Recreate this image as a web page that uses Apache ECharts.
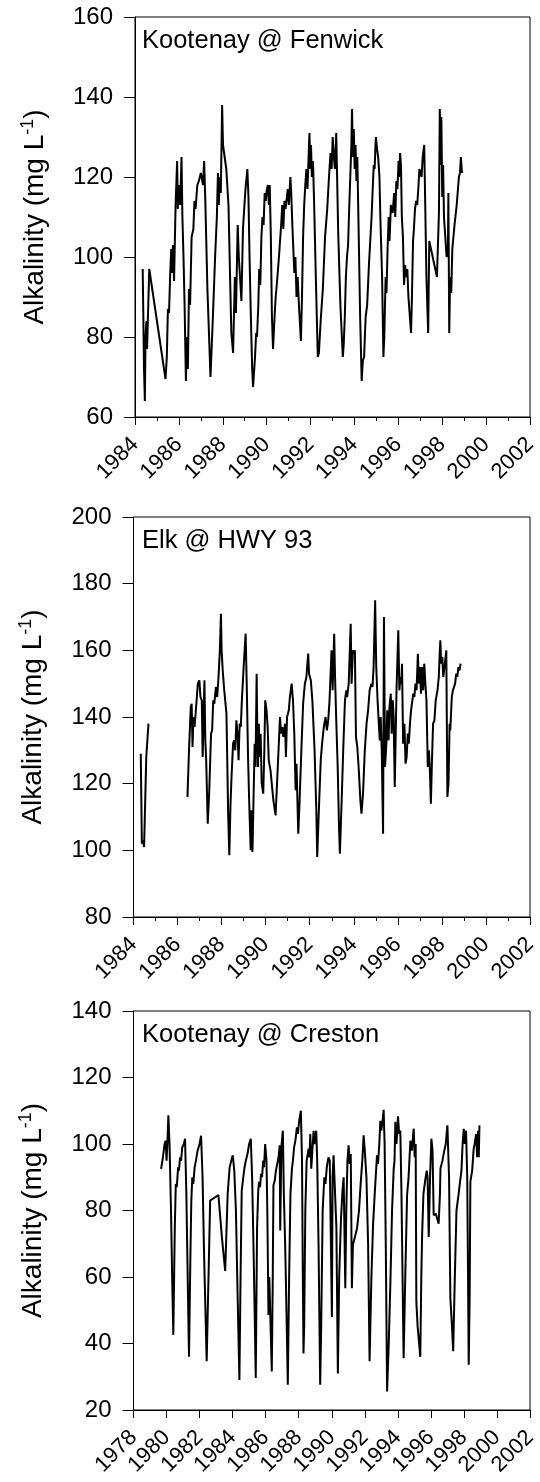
<!DOCTYPE html>
<html>
<head>
<meta charset="utf-8">
<script src="https://cdn.jsdelivr.net/npm/echarts@6/dist/echarts.min.js"></script>
<style>
html,body{margin:0;padding:0;background:#fff;}
#chart{width:540px;height:1482px;}
</style>
</head>
<body>
<div id="chart"></div>
<script>
// ---------- DATA ----------
const panelTitles = ['Kootenay @ Fenwick', 'Elk @ HWY 93', 'Kootenay @ Creston'];
const yTitle = 'Alkalinity (mg L-1)';

// Panel 1: Kootenay @ Fenwick (decimal year, mg/L)
const fenwickDates = [1984.35,1984.38,1984.41,1984.45,1984.48,1984.52,1984.55,1984.58,1984.65,
1985.39,1985.45,1985.5,1985.55,1985.6,1985.65,1985.68,1985.73,1985.78,1985.85,1985.92,1985.95,
1986.0,1986.06,1986.12,1986.16,1986.21,1986.26,1986.32,1986.37,1986.41,1986.46,1986.51,1986.58,1986.66,1986.71,1986.76,1986.84,1986.91,
1987.0,1987.1,1987.15,1987.2,1987.3,1987.44,1987.55,1987.65,1987.73,1987.78,1987.82,1987.86,1987.91,1987.97,
1988.01,1988.06,1988.11,1988.16,1988.26,1988.32,1988.39,1988.47,1988.55,1988.6,1988.68,1988.73,1988.85,1988.92,
1989.03,1989.12,1989.17,1989.22,1989.28,1989.34,1989.38,1989.42,1989.47,1989.52,1989.56,1989.62,1989.66,1989.71,1989.76,1989.81,1989.86,1989.91,1989.96,
1990.01,1990.06,1990.1,1990.14,1990.19,1990.24,1990.29,1990.36,1990.41,1990.46,1990.56,1990.66,1990.71,1990.76,1990.81,1990.86,1990.96,
1991.01,1991.08,1991.12,1991.17,1991.26,1991.31,1991.36,1991.41,1991.48,1991.56,1991.61,1991.66,1991.71,1991.76,1991.81,1991.86,1991.91,1991.95,1991.99,
1992.02,1992.06,1992.11,1992.16,1992.24,1992.33,1992.38,1992.46,1992.56,1992.66,1992.76,1992.84,1992.91,1992.96,
1993.01,1993.06,1993.11,1993.17,1993.21,1993.26,1993.36,1993.47,1993.51,1993.56,1993.61,1993.66,1993.71,1993.76,1993.81,1993.86,1993.89,1993.93,1993.97,
1994.01,1994.05,1994.09,1994.13,1994.18,1994.26,1994.33,1994.38,1994.44,1994.51,1994.58,1994.66,1994.72,1994.78,1994.84,1994.88,1994.92,1994.96,1994.98,
1995.03,1995.08,1995.14,1995.18,1995.26,1995.32,1995.36,1995.42,1995.46,1995.51,1995.56,1995.6,1995.66,1995.74,1995.81,1995.86,1995.91,1995.96,
1996.01,1996.04,1996.08,1996.12,1996.16,1996.21,1996.26,1996.31,1996.36,1996.41,1996.46,1996.58,1996.62,1996.67,1996.71,1996.76,1996.81,1996.86,1996.91,1996.96,
1997.01,1997.06,1997.11,1997.18,1997.22,1997.28,1997.36,1997.41,1997.76,1997.85,1997.89,1997.93,1997.96,
1998.0,1998.04,1998.08,1998.14,1998.2,1998.26,1998.28,1998.32,1998.36,1998.41,1998.46,1998.56,1998.66,1998.76,1998.81,1998.85,1998.9];
const fenwickValues = [97,85,72,64,80,84,77,83,97,
69.5,75,87,86,95,102,96,103,94,113,124,112,
118,113,125,110,100,88,69,80,72,92,88,105,107,114,112,118,119,
121,118,124,115,92,70,85,100,110,121,113,120,116,138,
128,126,124,122,113,113,81,76,95,86,108,100,89,107,
116.7,122,115,100,85,72,67.5,68,75,81,80,88,97,93,105,110,108,116,114,
117,118,113,118,105,85,77,85,90,93,100,108,113,107,114,112,117,
113,120,116,108,96,100,90,95,87,79,90,105,113,118,122,117,125,131,122,
128,120,124,114,95,75,76,84,92,105,112,120,126,122,
130,125,122,131,120,106,88,75,78,85,95,100,103,112,120,128,137,125,132,
122,128,119,125,110,85,69,74,75,85,88,98,104,110,118,123,122,128,130,
127,125,120,110,95,75,80,95,91,102,110,104,113,111,116,110,119,117,
124,120,126,123,110,105,93,98,95,97,90,81,90,104,107,112,114,113,117,122,
121,120,125,128,115,95,81,104,95,111,137,123,135,
115,123,110,105,100,102,116,81,95,91,102,108,113,120,121,125,121];

// Panel 2: Elk @ HWY 93 (null = gap in record)
const elkDates = [1984.33,1984.38,1984.43,1984.48,1984.58,1984.68,
1985.5,
1986.45,1986.52,1986.6,1986.64,1986.68,1986.72,1986.77,1986.82,1986.92,1986.99,
1987.04,1987.1,1987.14,1987.22,1987.26,1987.3,1987.37,1987.44,1987.52,1987.57,1987.62,1987.67,1987.74,1987.8,1987.86,1987.92,1987.97,
1988.0,1988.05,1988.12,1988.22,1988.3,1988.35,1988.4,1988.45,1988.52,1988.57,1988.62,1988.67,1988.72,1988.77,1988.82,1988.87,1988.92,1989.0,
1989.09,1989.14,1989.2,1989.25,1989.32,1989.35,1989.4,1989.44,1989.5,1989.54,1989.59,1989.62,1989.65,1989.69,1989.72,1989.77,1989.82,1989.89,1989.94,1989.98,
1990.04,1990.09,1990.14,1990.22,1990.35,1990.45,1990.55,1990.65,1990.7,1990.75,1990.8,1990.88,1990.92,1990.97,
1991.05,1991.1,1991.18,1991.24,1991.3,1991.36,1991.4,1991.48,1991.53,1991.62,1991.7,1991.78,1991.85,1991.93,1991.97,
1992.05,1992.12,1992.22,1992.3,1992.34,1992.42,1992.5,1992.56,1992.64,1992.72,1992.78,1992.84,1992.9,1992.99,
1993.04,1993.11,1993.15,1993.2,1993.27,1993.33,1993.37,1993.45,1993.52,1993.6,1993.66,1993.7,1993.77,1993.86,1993.9,1993.96,
1994.01,1994.05,1994.1,1994.16,1994.22,1994.3,1994.35,1994.42,1994.5,1994.58,1994.65,1994.72,1994.8,1994.85,1994.9,1994.97,
1995.02,1995.08,1995.12,1995.18,1995.22,1995.27,1995.33,1995.37,1995.42,1995.48,1995.52,1995.58,1995.62,1995.68,1995.72,1995.77,1995.81,1995.86,1995.94,
1996.02,1996.07,1996.12,1996.16,1996.19,1996.24,1996.3,1996.35,1996.4,1996.45,1996.5,1996.55,1996.6,1996.7,1996.75,1996.8,1996.85,1996.91,1996.96,
1997.0,1997.05,1997.1,1997.15,1997.2,1997.25,1997.3,1997.36,1997.41,1997.45,1997.5,1997.55,1997.6,1997.66,1997.72,1997.8,1997.86,1997.9,1997.93,1997.97,
1998.02,1998.06,1998.1,1998.15,1998.2,1998.25,1998.3,1998.35,1998.38,1998.45,1998.5,1998.6,1998.65,1998.7,1998.75,1998.8,1998.85];
const elkValues = [129,102,103,101,128,138,
null,
116,130,143,144,131,140,137,141,150,151,
146,145,128,151,133,127,108,118,135,136,145,144,149,146,152,160,171,
160,154,148,141,110,98.5,113,122,132,133,130,139,135,127,138,137,145,155,
165,150,128,115,100,112,99.5,100,132,125,153,136,125,138,128,135,120,117,130,145,
142,137,127,124,115,110.5,125,140,135,137,134,138,128,140,
142,146,150,145,135,118,126,105,113,130,144,150,152,159,153,
151,145,130,112,98,113,127,132,137,140,136,139,145,160,
148,165,152,140,125,107,99,115,130,145,148,146,150,168,150,160,
159,160,134,131,125,115,111,117,130,138,142,148,150,149,155,175,
155,145,140,133,140,130,105,170,125,132,142,133,143,147,135,145,140,119,148,
166,148,152,150,156,132,138,126,128,135,132,138,142,147,146,150,148,159,150,
155,147,155,148,156,150,145,125,130,125,114,127,138,139,145,148,152,159,163,156,
158,152,154,157,160,116,120,138,136,146,148,150,153,152,155,154,156];

// Panel 3: Kootenay @ Creston
const crestonDates = [1979.67,1979.78,1979.88,1979.95,1980.0,1980.05,1980.11,1980.18,1980.27,1980.34,1980.41,1980.5,1980.56,1980.62,1980.7,1980.75,1980.82,1980.88,1980.95,
1981.05,1981.12,1981.2,1981.28,1981.36,1981.44,1981.5,1981.56,1981.62,1981.7,1981.78,1981.88,
1982.0,1982.09,1982.18,1982.28,1982.43,1982.64,1983.14,1983.35,1983.55,1983.7,1983.82,1983.92,
1984.01,1984.1,1984.2,1984.3,1984.41,1984.48,1984.55,1984.66,1984.72,1984.8,1984.9,
1985.0,1985.1,1985.18,1985.28,1985.4,1985.48,1985.55,1985.6,1985.66,1985.72,1985.78,1985.85,1985.9,1985.97,
1986.05,1986.1,1986.17,1986.22,1986.3,1986.37,1986.43,1986.47,1986.55,1986.62,1986.7,1986.78,1986.85,1986.88,1986.95,
1987.04,1987.1,1987.18,1987.22,1987.34,1987.42,1987.5,1987.59,1987.65,1987.72,1987.8,1987.89,1987.95,
1988.03,1988.13,1988.2,1988.25,1988.29,1988.33,1988.4,1988.48,1988.6,1988.65,1988.7,1988.76,1988.84,1988.9,1988.95,
1989.06,1989.12,1989.2,1989.3,1989.36,1989.45,1989.55,1989.62,1989.7,1989.8,1989.88,
1990.01,1990.05,1990.11,1990.2,1990.28,1990.37,1990.45,1990.56,1990.65,1990.72,1990.82,1990.88,1990.95,
1991.02,1991.08,1991.15,1991.22,1991.28,1991.4,1991.53,1991.65,1991.75,1991.85,1991.93,
1992.0,1992.1,1992.2,1992.29,1992.4,1992.5,1992.6,1992.74,1992.8,1992.88,1992.94,
1993.0,1993.08,1993.14,1993.2,1993.27,1993.35,1993.45,1993.55,1993.65,1993.75,1993.8,1993.85,1993.92,
1994.01,1994.08,1994.15,1994.22,1994.35,1994.45,1994.56,1994.65,1994.76,1994.85,1994.96,
1995.02,1995.08,1995.12,1995.2,1995.36,1995.42,1995.47,1995.55,1995.67,1995.75,1995.8,1995.87,1995.95,
1996.03,1996.1,1996.17,1996.3,1996.47,1996.55,1996.58,1996.7,1996.8,1996.9,
1997.0,1997.1,1997.18,1997.28,1997.35,1997.45,1997.55,1997.68,1997.75,1997.85,1997.92,1997.99,
1998.05,1998.13,1998.2,1998.25,1998.29,1998.35,1998.39,1998.5,1998.59,1998.65,1998.74,1998.8,1998.86,1998.9,1998.94];
const crestonValues = [92.5,96,100,101,95,100,108.6,100,80,60,42.6,75,88,87,93,92,96,95,99,
100,101.6,85,60,36,65,83,90,88,93,95,98,
100,102.5,90,65,34.7,83,84.6,72,61.8,85,93,95,
96.6,92,80,55,29,60,86,90.6,93,95,97,
100,101.6,90,65,29.6,75,86,88.6,87,91,90,95,93,100,
95,80,48.6,60,45,31.6,60,87.6,89,92,94,96,99.6,74,99,
104,85,69.6,60,27.6,60,85,92.6,95,99,101,105,103,
107,110,95,60,37,45,80,95,98.6,96,103,92.6,92.6,104,100,
104,95,70,27.6,45,80,90,88,93,96,95,
48,90,96.6,97,75,31,60,77.6,86,90,56.6,80,95,
99.6,94,97,56.6,69.6,72,74.6,80,88,95,102.6,
98,90,70,34.7,60,75.6,85,96.6,94,100,107,
104,107,110.3,100,70,25.6,40,58.6,80,92.6,95,106.7,100,
108.3,103,104,85,35.6,60,84.6,90,101,98,104.6,
96,100,52.6,45,36,60,72.6,85,89.6,92,90,72,90,
101.6,98,78.6,79,76,85,92.6,95,97.7,100,
105.6,90,53.6,45,37.7,60,80,85,88,92,100,104.6,
100,104,90,60,33.6,55,88.6,92,98.6,100,103,96,104,96,105.6];

// Axis settings per panel
const xRanges = [[1984, 2002], [1984, 2002], [1978, 2002]];
const yRanges = [[60, 160], [80, 200], [20, 140]];
const yStep = 20;
const xStep = 2;

// ---------- CHART ----------
const FONT = 'Liberation Sans, Arial, sans-serif';
const chart = echarts.init(document.getElementById('chart'), null, {renderer: 'canvas'});

const gridTops = [17, 517, 1011];
const gridHeights = [400, 400, 399];
const gridLefts = [135, 133.5, 133.5];

function zip(xs, ys) { return xs.map((x, i) => [x, ys[i]]); }
const seriesData = [zip(fenwickDates, fenwickValues), zip(elkDates, elkValues), zip(crestonDates, crestonValues)];

const grids = [], xAxes = [], yAxes = [], series = [], graphics = [];
for (let i = 0; i < 3; i++) {
  grids.push({left: gridLefts[i], right: 10, top: gridTops[i], height: gridHeights[i],
    show: true, borderColor: '#000', borderWidth: 1, backgroundColor: 'transparent'});
  xAxes.push({
    type: 'value', gridIndex: i, min: xRanges[i][0], max: xRanges[i][1], interval: xStep,
    axisLine: {show: true, onZero: false, lineStyle: {color: '#000', width: 1}},
    axisTick: {show: true, inside: false, length: 8, lineStyle: {color: '#000', width: 1}},
    minorTick: {show: i < 2, splitNumber: 2, length: 4, lineStyle: {color: '#000', width: 1}},
    splitLine: {show: false},
    axisLabel: {rotate: 45, fontSize: 22, fontFamily: FONT, color: '#000', margin: 24,
      formatter: v => String(v)}
  });
  yAxes.push({
    type: 'value', gridIndex: i, min: yRanges[i][0], max: yRanges[i][1], interval: yStep,
    axisLine: {show: true, lineStyle: {color: '#000', width: 1}},
    axisTick: {show: true, inside: false, length: 11, lineStyle: {color: '#000', width: 1}},
    splitLine: {show: false},
    axisLabel: {fontSize: 24, fontFamily: FONT, color: '#000', margin: 22},
    name: '{a|Alkalinity (mg L}{b|-1}{a|)}',
    nameLocation: 'middle', nameGap: 84, nameRotate: 90,
    nameTextStyle: {fontFamily: FONT, color: '#000',
      rich: {a: {fontSize: 28, fontFamily: FONT, color: '#000', lineHeight: 32},
             b: {fontSize: 18, fontFamily: FONT, color: '#000', verticalAlign: 'top', lineHeight: 32}}}
  });
  series.push({
    type: 'line', xAxisIndex: i, yAxisIndex: i, data: seriesData[i],
    showSymbol: false, symbol: 'none', connectNulls: false,
    lineStyle: {color: '#000', width: 2}, animation: false
  });
  graphics.push({
    type: 'text', left: 142, top: gridTops[i] + 11,
    style: {text: panelTitles[i], fontSize: 25.5, fontFamily: FONT, fill: '#000'}
  });
}

chart.setOption({
  animation: false,
  backgroundColor: '#fff',
  grid: grids, xAxis: xAxes, yAxis: yAxes, series: series, graphic: graphics
});
</script>
</body>
</html>
